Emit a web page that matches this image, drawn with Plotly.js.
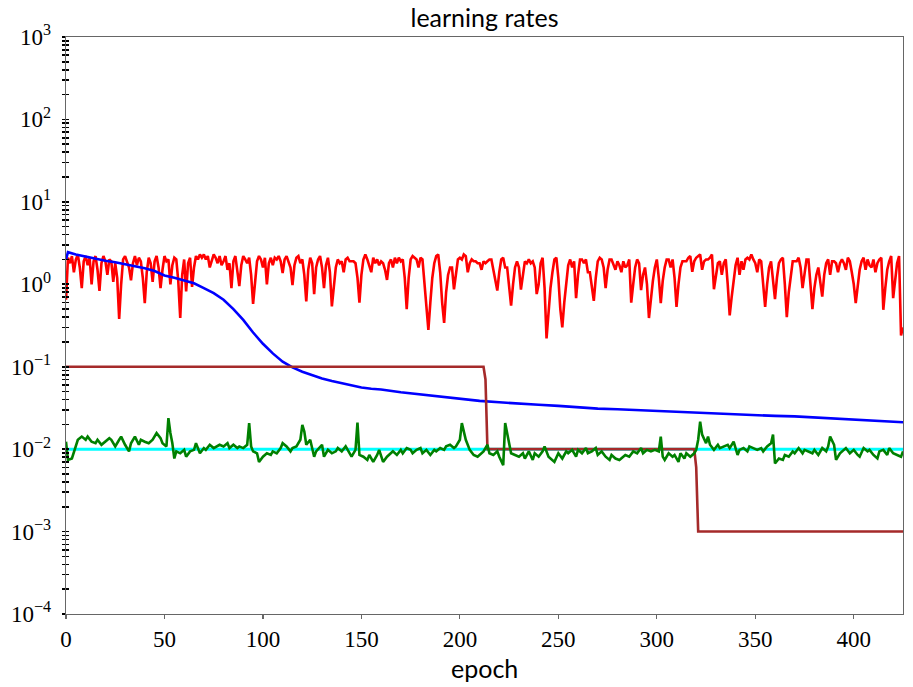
<!DOCTYPE html>
<html>
<head>
<meta charset="utf-8">
<script src="https://cdn.plot.ly/plotly-3.0.1.min.js"></script>
<style>
html,body{margin:0;padding:0;background:#fff;}
#chart{width:913px;height:687px;}
</style>
</head>
<body>
<div id="chart"></div>
<script>
// ---- data ----
// red series: one value per epoch 0..425
const redValues = [
0.65,2.1,1.8,2.2,1.4,2.0,2.3,1.6,0.9,1.9,
2.2,1.7,2.1,1.0,1.9,2.2,1.5,0.83,1.8,2.2,
1.9,1.3,2.0,1.9,1.07,1.8,1.2,0.38,1.0,2.0,
2.2,1.9,1.6,1.12,1.8,2.2,1.7,2.1,1.9,1.2,
0.59,1.4,2.1,1.8,1.07,1.9,2.2,1.6,0.9,1.5,
2.2,1.9,2.0,1.0,1.7,2.1,2.0,1.1,0.39,1.3,
2.0,0.82,1.8,2.1,0.93,1.6,2.2,2.0,2.3,2.1,
2.3,2.0,2.2,1.6,1.9,2.3,2.1,1.8,2.2,1.7,
1.9,2.2,1.5,1.8,0.9,1.9,2.2,1.5,0.95,1.7,
2.2,2.0,1.8,2.1,1.3,0.58,1.2,1.9,2.2,2.0,
1.6,2.1,1.0,1.8,2.1,1.7,2.1,2.0,2.2,1.9,
1.37,2.0,2.2,1.9,1.6,0.98,1.7,2.1,2.2,1.8,
2.0,1.3,0.62,1.5,2.1,1.8,0.76,1.6,2.0,2.2,
1.6,0.9,1.7,2.1,1.4,0.54,1.0,1.6,2.0,1.8,
1.9,1.4,2.0,2.1,1.9,1.9,1.9,1.8,1.2,0.6,
1.3,2.0,2.3,2.0,1.7,1.4,2.1,1.8,2.0,1.7,
1.9,1.8,1.5,1.13,1.8,2.0,1.6,2.1,1.8,2.1,
1.9,2.0,1.2,0.5,1.2,2.0,2.2,2.1,2.0,1.6,
2.1,2.0,1.0,0.5,0.28,0.6,1.2,1.8,2.2,2.3,
1.4,0.6,0.34,0.8,1.3,1.6,1.6,0.87,1.4,2.0,
2.1,2.0,2.3,2.2,1.4,1.8,2.0,1.9,1.9,1.8,
1.8,1.5,1.9,1.8,1.9,2.0,2.0,1.5,1.1,0.84,
1.4,2.0,2.1,1.6,1.6,1.0,0.55,1.0,1.6,1.9,
1.6,0.86,1.3,1.9,1.8,2.0,1.8,1.9,1.6,0.76,
1.0,1.8,2.1,0.9,0.22,0.5,0.9,1.4,2.0,2.1,
1.2,0.5,0.3,0.6,1.1,1.7,2.0,1.6,1.9,0.68,
1.3,2.0,2.0,1.8,2.0,1.4,1.4,0.9,0.63,1.2,
1.9,2.1,2.0,1.6,0.9,1.5,2.0,2.0,1.7,1.5,
1.9,1.7,1.4,1.9,1.6,1.7,2.0,0.6,1.0,1.6,
2.0,1.8,0.85,1.3,1.6,1.0,0.39,0.7,1.1,1.6,
2.0,1.2,0.59,1.1,1.6,2.0,2.0,1.6,2.0,1.2,
0.53,1.0,1.6,1.9,1.9,1.9,2.1,2.2,1.42,1.9,
2.1,2.2,2.3,1.5,1.9,2.0,2.0,2.1,2.3,0.87,
1.2,1.8,1.9,1.3,1.8,2.0,1.0,0.42,0.7,1.2,
1.7,2.1,1.3,1.9,1.5,2.0,2.1,2.0,2.3,2.0,
1.8,1.4,2.0,1.9,1.0,0.53,1.0,1.6,1.9,1.1,
0.66,1.2,1.8,2.0,2.1,1.0,0.4,0.8,1.3,1.9,
1.9,1.9,2.1,1.6,0.9,1.3,2.0,2.0,1.0,0.5,
0.9,1.3,1.6,1.0,0.71,1.3,1.8,2.0,1.3,1.9,
1.9,1.8,1.4,1.8,2.0,1.8,1.5,2.1,1.9,1.4,
1.0,0.59,1.0,1.5,1.9,2.1,1.5,2.0,1.7,1.6,
2.0,1.4,1.8,2.0,2.1,0.49,0.9,1.5,1.9,2.2,
0.68,1.2,1.8,2.2,0.24,0.3
];

// blue series (sampled epochs)
const blueEpochs = [0,1,5,10,15,20,25,30,35,40,45,50,55,60,65,70,75,80,85,90,95,100,105,110,115,120,125,130,135,140,145,150,155,160,170,180,190,200,210,220,230,240,250,260,270,280,290,300,310,320,330,340,350,360,370,380,390,400,410,420,425];
const blueValues = [2.0,2.45,2.3,2.17,2.03,1.93,1.85,1.75,1.63,1.57,1.45,1.28,1.2,1.12,1.03,0.9,0.78,0.65,0.5,0.37,0.26,0.19,0.145,0.115,0.098,0.087,0.079,0.072,0.067,0.063,0.06,0.056,0.054,0.053,0.049,0.046,0.043,0.041,0.0385,0.037,0.0355,0.0345,0.0335,0.032,0.031,0.0305,0.0298,0.029,0.028,0.0278,0.027,0.026,0.0258,0.0253,0.025,0.0243,0.0238,0.023,0.0225,0.0218,0.0212];

// brown step schedule
const brownEpochs = [0,212,213,214,319,320,321,425];
const brownValues = [0.1,0.1,0.07,0.01,0.01,0.006,0.001,0.001];

// cyan constant
const cyanEpochs = [0,425];
const cyanValues = [0.01,0.01];

// green series (sampled epochs)
const greenEpochs = [0,1,3,5,6,8,10,11,13,15,16,18,20,22,23,25,27,28,30,32,33,35,37,38,40,42,44,45,46,48,49,51,52,53,54,55,56,58,60,61,63,65,66,68,70,71,73,75,77,78,80,82,83,85,87,88,90,92,93,94,95,97,98,100,102,104,105,107,109,110,112,114,115,117,119,120,121,122,124,126,127,130,131,133,135,137,138,140,142,143,145,147,148,149,151,153,154,156,158,159,161,163,165,166,168,170,171,173,175,176,178,180,181,183,185,187,188,190,192,193,195,197,198,200,201,203,205,207,209,210,212,214,215,217,219,220,222,223,225,226,228,230,232,233,235,237,238,240,242,243,245,247,248,250,252,254,255,257,259,260,262,264,265,267,269,270,272,274,276,277,279,281,284,286,288,290,292,293,295,297,299,301,302,303,304,306,308,309,311,312,314,315,317,319,320,321,322,323,325,326,327,329,331,332,334,336,337,339,341,342,344,346,347,349,351,353,354,356,358,359,360,362,364,365,367,369,370,372,374,375,377,379,380,382,384,386,387,388,390,391,393,395,396,398,400,402,403,405,407,408,410,412,413,415,417,418,420,422,424,425];
const greenValues = [0.0123,0.0074,0.0077,0.0113,0.013,0.0142,0.013,0.0142,0.0123,0.0118,0.013,0.0113,0.0123,0.0136,0.013,0.0108,0.013,0.0142,0.0113,0.0094,0.0118,0.0142,0.0113,0.013,0.0123,0.0118,0.013,0.0142,0.0157,0.0136,0.0118,0.0108,0.0238,0.0157,0.0118,0.0077,0.0094,0.0089,0.0098,0.0081,0.0094,0.0098,0.0118,0.0089,0.0103,0.0098,0.0113,0.0103,0.0108,0.0113,0.0108,0.0118,0.0103,0.0113,0.0103,0.0108,0.0103,0.0113,0.0207,0.0108,0.0094,0.0089,0.007,0.0081,0.0089,0.0085,0.0094,0.0089,0.0103,0.0118,0.0108,0.0094,0.0103,0.0108,0.013,0.0197,0.0164,0.0113,0.013,0.0081,0.0094,0.0113,0.0081,0.0098,0.0089,0.0094,0.0103,0.0094,0.0108,0.0098,0.0081,0.0098,0.021,0.0085,0.0081,0.0074,0.0085,0.007,0.0085,0.0098,0.007,0.0081,0.0089,0.0094,0.0085,0.0098,0.0089,0.0103,0.0098,0.0089,0.0098,0.0103,0.0089,0.0098,0.0085,0.0098,0.0094,0.0103,0.0098,0.0108,0.0113,0.0103,0.0108,0.013,0.0207,0.013,0.0098,0.0085,0.0081,0.0085,0.0094,0.0113,0.0089,0.0085,0.0094,0.0081,0.0064,0.0207,0.0118,0.0089,0.0085,0.0081,0.0089,0.0077,0.0094,0.0074,0.0089,0.0081,0.0094,0.0108,0.0081,0.0074,0.007,0.0089,0.0077,0.0094,0.0089,0.0098,0.0081,0.0098,0.0089,0.0103,0.0089,0.0094,0.0103,0.0085,0.0094,0.0081,0.0074,0.0085,0.0077,0.0074,0.0085,0.0081,0.0094,0.0089,0.0103,0.0089,0.0098,0.0094,0.0098,0.0094,0.0142,0.0081,0.0074,0.0089,0.0081,0.0085,0.007,0.0089,0.0077,0.0089,0.0081,0.0089,0.0098,0.013,0.0216,0.015,0.0118,0.0142,0.0113,0.0098,0.0113,0.0103,0.0108,0.0113,0.0103,0.0123,0.0085,0.0098,0.0103,0.0094,0.0108,0.0103,0.0098,0.0103,0.0094,0.0108,0.0118,0.015,0.0067,0.0077,0.0074,0.0085,0.0081,0.0094,0.0089,0.0103,0.0089,0.0098,0.0094,0.0089,0.0098,0.0085,0.0103,0.0094,0.0108,0.0142,0.0113,0.0074,0.0089,0.0098,0.0103,0.0089,0.0098,0.0085,0.0081,0.0103,0.0094,0.0098,0.0085,0.0077,0.0094,0.0098,0.0085,0.0103,0.0089,0.0085,0.0081,0.0094];

// axis ticks
const xTickVals = [0,50,100,150,200,250,300,350,400];
const xTickText = ['0','50','100','150','200','250','300','350','400'];
const yTickVals = [1e-4,1e-3,1e-2,1e-1,1,10,100,1000];
const yTickText = ['10<sup>\u22124</sup>','10<sup>\u22123</sup>','10<sup>\u22122</sup>','10<sup>\u22121</sup>','10<sup>0</sup>','10<sup>1</sup>','10<sup>2</sup>','10<sup>3</sup>'];

// ---- build ----
const redEpochs = redValues.map((_, i) => i);
const minorVals = [];
for (let e = -4; e < 3; e++) for (let m = 2; m <= 9; m++) minorVals.push(m * Math.pow(10, e));

const lw = 2.6;
const traces = [
  {x: redEpochs, y: redValues, mode: 'lines', line: {color: '#ff0000', width: lw}, xaxis: 'x', yaxis: 'y'},
  {x: blueEpochs, y: blueValues, mode: 'lines', line: {color: '#0000ff', width: lw}, xaxis: 'x', yaxis: 'y'},
  {x: cyanEpochs, y: cyanValues, mode: 'lines', line: {color: '#00ffff', width: 3}, xaxis: 'x', yaxis: 'y'},
  {x: brownEpochs, y: brownValues, mode: 'lines', line: {color: '#a52a2a', width: lw}, xaxis: 'x', yaxis: 'y'},
  {x: greenEpochs, y: greenValues, mode: 'lines', line: {color: '#008000', width: lw}, xaxis: 'x', yaxis: 'y2'}
];

const spine = '#666666';
const layout = {
  width: 913, height: 687,
  margin: {l: 66, r: 10, t: 37, b: 73, pad: 0},
  paper_bgcolor: '#fff', plot_bgcolor: '#fff',
  showlegend: false,
  font: {family: 'Liberation Serif', size: 23, color: '#000'},
  title: {text: 'learning rates', font: {family: 'Lato', size: 25, color: '#000'},
          x: 0.5, xref: 'paper', xanchor: 'center', y: 1, yref: 'paper', yanchor: 'bottom', pad: {b: 10}},
  xaxis: {
    range: [0, 425], showgrid: false, zeroline: false,
    showline: true, linecolor: spine, linewidth: 1.3, mirror: true,
    ticks: 'outside', ticklen: 4, tickwidth: 1.2, tickcolor: spine,
    tickmode: 'array', tickvals: xTickVals, ticktext: xTickText,
    tickfont: {family: 'Liberation Serif', size: 23, color: '#000'}
  },
  yaxis: {
    type: 'log', range: [-4, 3], showgrid: false, zeroline: false,
    showline: true, linecolor: spine, linewidth: 1.3, mirror: true,
    ticks: 'outside', ticklen: 3, tickwidth: 1.6, tickcolor: '#000',
    tickmode: 'array', tickvals: yTickVals, ticktext: yTickText,
    tickfont: {family: 'Liberation Serif', size: 23, color: '#000'},
    ticklabelstandoff: 6,
    minor: {tickmode: 'array', tickvals: minorVals, ticks: 'outside', ticklen: 3, tickwidth: 1.6, tickcolor: '#000', showgrid: false}
  },
  yaxis2: {
    type: 'log', range: [-4, 3], overlaying: 'y', side: 'left', anchor: 'x',
    showgrid: false, zeroline: false, showline: false, showticklabels: false,
    ticks: 'inside', ticklen: 3, tickwidth: 1.6, tickcolor: '#000',
    tickmode: 'array', tickvals: yTickVals,
    minor: {tickmode: 'array', tickvals: minorVals, ticks: 'inside', ticklen: 3, tickwidth: 1.6, tickcolor: '#000', showgrid: false}
  },
  annotations: [{
    text: 'epoch', xref: 'paper', yref: 'paper', x: 0.5, y: -0.064,
    xanchor: 'center', yanchor: 'top', showarrow: false,
    font: {family: 'Lato', size: 25, color: '#000'}
  }]
};

Plotly.newPlot('chart', traces, layout, {staticPlot: true, displayModeBar: false});
</script>
</body>
</html>
